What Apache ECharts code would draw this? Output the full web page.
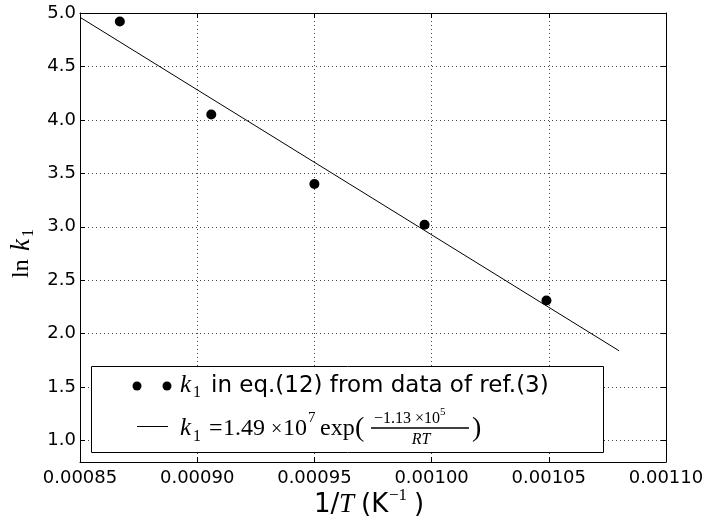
<!DOCTYPE html>
<html>
<head>
<meta charset="utf-8">
<script src="https://cdn.jsdelivr.net/npm/echarts@6/dist/echarts.min.js"></script>
<style>
  html, body { margin: 0; padding: 0; background: #fff; }
  #chart { width: 710px; height: 521px; }
</style>
</head>
<body>
<div id="chart"></div>
<script>
// measured points: 1/T vs ln k1
const invT = [0.000867, 0.000906, 0.000950, 0.000997, 0.001049];
const lnK1 = [4.92, 4.05, 3.40, 3.02, 2.31];
// fitted line end points
const fitX = [0.00085, 0.00108];
const fitY = [4.96, 1.84];
// axis ticks
const yTicks = [1.0, 1.5, 2.0, 2.5, 3.0, 3.5, 4.0, 4.5, 5.0];

const SANS = 'DejaVu Sans';
const SERIF = 'Liberation Serif';

const chart = echarts.init(document.getElementById('chart'));

// small helper for legend / title text pieces
function txt(x, y, str, size, opts) {
  opts = opts || {};
  return {
    type: 'text',
    x: x, y: y,
    z: opts.z || 11,
    silent: true,
    style: {
      text: str,
      fontFamily: opts.family || SERIF,
      fontStyle: opts.italic ? 'italic' : 'normal',
      fontSize: size,
      fill: '#000',
      align: opts.align || 'left',
      verticalAlign: 'middle'
    }
  };
}

const xAxisBase = {
  type: 'value',
  min: 0.00085,
  max: 0.0011,
  interval: 0.00005,
  axisLine: { show: true, lineStyle: { color: '#000', width: 1 } },
  axisTick: { show: true, inside: true, length: 5, lineStyle: { color: '#000' } }
};
const yAxisBase = {
  type: 'value',
  min: 0.8,
  max: 5.0,
  axisLine: { show: true, lineStyle: { color: '#000', width: 1 } },
  axisTick: { show: true, inside: true, length: 5, customValues: yTicks, lineStyle: { color: '#000' } }
};

const gridLine = { show: true, lineStyle: { color: '#444', width: 1, type: [1, 3] } };

const option = {
  animation: false,
  backgroundColor: '#fff',
  grid: { left: 80, right: 44, top: 13, bottom: 59, containLabel: false, outerBoundsMode: 'none' },
  xAxis: [
    Object.assign({}, xAxisBase, {
      position: 'bottom',
      axisLabel: {
        color: '#000', fontFamily: SANS, fontSize: 18, margin: 7,
        formatter: v => v.toFixed(5)
      },
      splitLine: gridLine
    }),
    Object.assign({}, xAxisBase, {
      position: 'top',
      axisLabel: { show: false },
      splitLine: { show: false }
    })
  ],
  yAxis: [
    Object.assign({}, yAxisBase, {
      position: 'left',
      axisLabel: {
        color: '#000', fontFamily: SANS, fontSize: 18, margin: 4,
        customValues: yTicks,
        formatter: v => v.toFixed(1)
      },
      splitLine: gridLine
    }),
    Object.assign({}, yAxisBase, {
      position: 'right',
      axisLabel: { show: false },
      splitLine: { show: false }
    })
  ],
  series: [
    {
      name: 'fit',
      type: 'line',
      data: fitX.map((x, i) => [x, fitY[i]]),
      showSymbol: false,
      lineStyle: { color: '#000', width: 1 },
      z: 2
    },
    {
      name: 'data',
      type: 'scatter',
      data: invT.map((x, i) => [x, lnK1[i]]),
      symbolSize: 10,
      itemStyle: { color: '#000', opacity: 1 },
      z: 3
    }
  ],
  graphic: [
    // legend box
    {
      type: 'rect', z: 10,
      shape: { x: 91.5, y: 366.5, width: 512, height: 86 },
      style: { fill: '#fff', stroke: '#000', lineWidth: 1 }
    },
    { type: 'circle', z: 11, shape: { cx: 137, cy: 386, r: 4.5 }, style: { fill: '#000' } },
    { type: 'circle', z: 11, shape: { cx: 167, cy: 386, r: 4.5 }, style: { fill: '#000' } },
    txt(180, 385, 'k', 25, { italic: true }),
    txt(193, 393, '1', 16),
    txt(211, 386, 'in eq.(12) from data of ref.(3)', 23, { family: SANS }),
    {
      type: 'line', z: 11,
      shape: { x1: 137, y1: 426.5, x2: 168, y2: 426.5 },
      style: { stroke: '#000', lineWidth: 1 }
    },
    txt(180, 428, 'k', 25, { italic: true }),
    txt(193, 437, '1', 16),
    txt(209, 429, '=', 24),
    txt(223, 429, '1.49', 24),
    txt(271, 430, '×', 20),
    txt(283, 429, '10', 24),
    txt(308, 418, '7', 15),
    txt(320, 429, 'exp', 24),
    txt(355, 429, '(', 28),
    txt(374, 419, '−1.13 ×10', 16),
    txt(440, 412, '5', 11),
    {
      type: 'line', z: 11,
      shape: { x1: 371, y1: 428, x2: 469, y2: 428 },
      style: { stroke: '#000', lineWidth: 1.5 }
    },
    txt(421, 440, 'RT', 16, { italic: true, align: 'center' }),
    txt(472, 429, ')', 28),
    // x axis title
    txt(314, 505, '1/', 26, { family: SANS }),
    txt(339, 505, 'T', 27, { italic: true }),
    txt(361, 505, '(K', 26, { family: SANS }),
    txt(389, 496, '−1', 17),
    txt(414, 505, ')', 26, { family: SANS }),
    // y axis title, rotated
    {
      type: 'group',
      x: 22, y: 278,
      rotation: Math.PI / 2,
      children: [
        txt(0, 0, 'ln', 24),
        txt(27, 0, 'k', 27, { italic: true }),
        txt(41, 7, '1', 16)
      ]
    }
  ]
};

chart.setOption(option);
</script>
</body>
</html>
